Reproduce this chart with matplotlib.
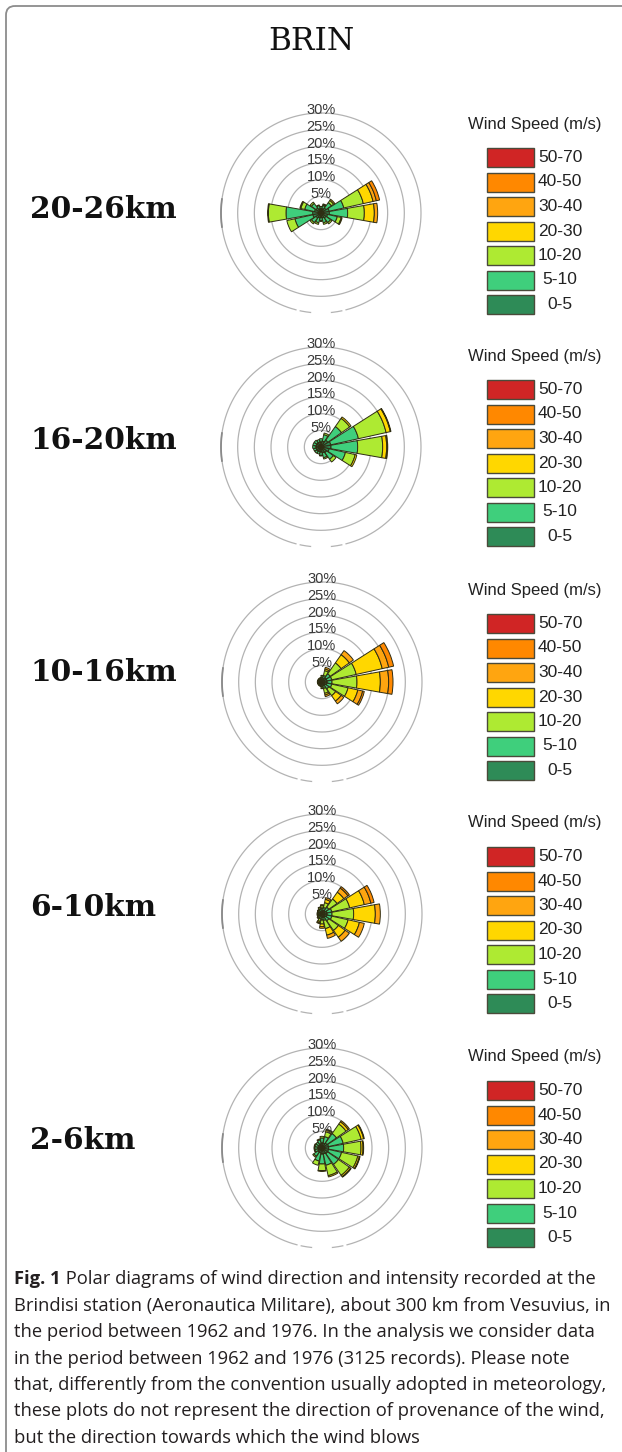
import numpy as np
import matplotlib
matplotlib.use("Agg")
import matplotlib.pyplot as plt
from matplotlib.patches import Rectangle, FancyBboxPatch

# ---------------------------------------------------------------------------
# Data: percentage frequency per direction (toward which the wind blows),
# split by wind-speed class.  Rows = directions, columns = speed classes.
# ---------------------------------------------------------------------------
directions = ['N', 'NNE', 'NE', 'ENE', 'E', 'ESE', 'SE', 'SSE',
              'S', 'SSW', 'SW', 'WSW', 'W', 'WNW', 'NW', 'NNW']
speed_classes = ['0-5', '5-10', '10-20', '20-30', '30-40', '40-50', '50-70']
class_colors = ['#2e8b57', '#3fcf7c', '#aeea32', '#ffd700',
                '#ffa510', '#ff8800', '#d02525']

layers = ['20-26km', '16-20km', '10-16km', '6-10km', '2-6km']

rose_20_26 = [
    [1.2, 0.8, 0.0, 0.0, 0.0, 0.0, 0.0],
    [1.3, 1.0, 0.3, 0.2, 0.0, 0.0, 0.0],
    [1.8, 2.0, 0.8, 0.4, 0.0, 0.0, 0.0],
    [2.5, 4.5, 6.0, 3.0, 1.0, 1.0, 0.0],
    [2.5, 5.5, 5.0, 3.0, 1.0, 0.0, 0.0],
    [2.0, 3.0, 1.2, 0.3, 0.0, 0.0, 0.0],
    [1.8, 1.7, 0.5, 0.0, 0.0, 0.0, 0.0],
    [1.5, 1.5, 0.5, 0.0, 0.0, 0.0, 0.0],
    [1.3, 1.0, 0.2, 0.0, 0.0, 0.0, 0.0],
    [1.5, 1.5, 0.5, 0.0, 0.0, 0.0, 0.0],
    [1.8, 1.7, 0.5, 0.0, 0.0, 0.0, 0.0],
    [2.5, 5.5, 2.5, 0.0, 0.0, 0.0, 0.0],
    [2.5, 8.0, 5.3, 0.2, 0.0, 0.0, 0.0],
    [2.0, 3.0, 1.2, 0.3, 0.0, 0.0, 0.0],
    [1.8, 1.7, 0.5, 0.0, 0.0, 0.0, 0.0],
    [1.3, 1.0, 0.2, 0.0, 0.0, 0.0, 0.0],
]

rose_16_20 = [
    [1.5, 1.0, 0.0, 0.0, 0.0, 0.0, 0.0],
    [1.8, 2.0, 0.5, 0.0, 0.0, 0.0, 0.0],
    [2.5, 5.0, 3.0, 0.5, 0.0, 0.0, 0.0],
    [3.0, 8.5, 8.5, 1.3, 0.2, 0.0, 0.0],
    [3.0, 8.0, 7.5, 1.2, 0.3, 0.0, 0.0],
    [2.5, 5.0, 3.0, 0.5, 0.0, 0.0, 0.0],
    [2.0, 2.5, 1.0, 0.0, 0.0, 0.0, 0.0],
    [1.8, 1.5, 0.4, 0.0, 0.0, 0.0, 0.0],
    [1.5, 1.0, 0.2, 0.0, 0.0, 0.0, 0.0],
    [1.4, 0.8, 0.0, 0.0, 0.0, 0.0, 0.0],
    [1.5, 0.8, 0.0, 0.0, 0.0, 0.0, 0.0],
    [1.5, 0.8, 0.0, 0.0, 0.0, 0.0, 0.0],
    [1.5, 1.0, 0.0, 0.0, 0.0, 0.0, 0.0],
    [1.5, 1.0, 0.0, 0.0, 0.0, 0.0, 0.0],
    [1.5, 1.0, 0.0, 0.0, 0.0, 0.0, 0.0],
    [1.5, 0.8, 0.0, 0.0, 0.0, 0.0, 0.0],
]

rose_10_16 = [
    [0.8, 0.7, 0.5, 0.0, 0.0, 0.0, 0.0],
    [1.0, 1.0, 1.5, 0.5, 0.5, 0.0, 0.0],
    [1.5, 1.5, 4.0, 3.0, 1.5, 0.0, 0.0],
    [1.5, 1.5, 7.5, 8.0, 2.0, 1.5, 0.0],
    [1.5, 1.5, 7.5, 7.0, 2.5, 1.3, 0.0],
    [1.5, 1.5, 5.0, 3.0, 1.5, 0.5, 0.0],
    [1.2, 1.3, 2.5, 2.0, 1.0, 0.0, 0.0],
    [1.0, 1.0, 1.5, 0.5, 0.5, 0.0, 0.0],
    [0.8, 0.7, 0.5, 0.0, 0.0, 0.0, 0.0],
    [0.7, 0.5, 0.2, 0.0, 0.0, 0.0, 0.0],
    [0.7, 0.5, 0.2, 0.0, 0.0, 0.0, 0.0],
    [0.7, 0.5, 0.2, 0.0, 0.0, 0.0, 0.0],
    [0.7, 0.5, 0.2, 0.0, 0.0, 0.0, 0.0],
    [0.7, 0.5, 0.2, 0.0, 0.0, 0.0, 0.0],
    [0.7, 0.5, 0.2, 0.0, 0.0, 0.0, 0.0],
    [0.7, 0.5, 0.2, 0.0, 0.0, 0.0, 0.0],
]

rose_6_10 = [
    [1.0, 0.8, 0.7, 0.3, 0.0, 0.0, 0.0],
    [1.0, 1.0, 1.5, 1.0, 0.5, 0.0, 0.0],
    [1.2, 1.3, 3.0, 2.5, 1.5, 0.5, 0.0],
    [1.5, 1.5, 5.5, 4.5, 2.0, 1.0, 0.0],
    [1.5, 1.5, 6.5, 6.5, 1.5, 0.0, 0.0],
    [1.5, 1.5, 5.0, 3.5, 1.5, 0.0, 0.0],
    [1.2, 1.3, 3.5, 2.5, 1.5, 0.0, 0.0],
    [1.0, 1.0, 2.5, 2.0, 1.0, 0.0, 0.0],
    [1.0, 0.8, 1.2, 0.8, 0.5, 0.0, 0.0],
    [0.8, 0.7, 0.8, 0.4, 0.3, 0.0, 0.0],
    [0.8, 0.6, 0.4, 0.0, 0.0, 0.0, 0.0],
    [0.8, 0.5, 0.2, 0.0, 0.0, 0.0, 0.0],
    [0.8, 0.5, 0.2, 0.0, 0.0, 0.0, 0.0],
    [0.8, 0.5, 0.2, 0.0, 0.0, 0.0, 0.0],
    [0.8, 0.6, 0.3, 0.0, 0.0, 0.0, 0.0],
    [0.8, 0.7, 0.5, 0.2, 0.0, 0.0, 0.0],
]

rose_2_6 = [
    [1.5, 1.5, 0.5, 0.0, 0.0, 0.0, 0.0],
    [1.5, 2.0, 1.5, 0.5, 0.3, 0.0, 0.0],
    [1.8, 3.5, 3.5, 0.8, 0.4, 0.0, 0.0],
    [2.0, 4.5, 5.5, 0.8, 0.2, 0.0, 0.0],
    [2.0, 4.5, 5.2, 0.6, 0.2, 0.0, 0.0],
    [2.0, 4.0, 5.0, 0.5, 0.2, 0.0, 0.0],
    [2.0, 4.0, 4.0, 0.5, 0.2, 0.0, 0.0],
    [1.8, 3.5, 3.2, 0.4, 0.0, 0.0, 0.0],
    [1.8, 3.0, 2.0, 0.2, 0.0, 0.0, 0.0],
    [1.5, 2.5, 1.3, 0.0, 0.0, 0.0, 0.0],
    [1.4, 1.6, 0.4, 0.0, 0.0, 0.0, 0.0],
    [1.2, 1.0, 0.2, 0.0, 0.0, 0.0, 0.0],
    [1.2, 1.0, 0.2, 0.0, 0.0, 0.0, 0.0],
    [1.2, 1.0, 0.2, 0.0, 0.0, 0.0, 0.0],
    [1.2, 1.0, 0.0, 0.0, 0.0, 0.0, 0.0],
    [1.3, 1.2, 0.3, 0.0, 0.0, 0.0, 0.0],
]

roses = [rose_20_26, rose_16_20, rose_10_16, rose_6_10, rose_2_6]
ring_levels = [5, 10, 15, 20, 25, 30]

caption_lines = [
    "Polar diagrams of wind direction and intensity recorded at the",
    "Brindisi station (Aeronautica Militare), about 300 km from Vesuvius, in",
    "the period between 1962 and 1976. In the analysis we consider data",
    "in the period between 1962 and 1976 (3125 records). Please note",
    "that, differently from the convention usually adopted in meteorology,",
    "these plots do not represent the direction of provenance of the wind,",
    "but the direction towards which the wind blows",
]

# ---------------------------------------------------------------------------
W, H = 622, 1452
fig = plt.figure(figsize=(W / 100, H / 100), dpi=100)
fig.patch.set_facecolor('white')

# full-figure overlay in pixel units (y downward) for text, legends, frame
ov = fig.add_axes([0, 0, 1, 1])
ov.set_xlim(0, W)
ov.set_ylim(H, 0)
ov.axis('off')

frame = FancyBboxPatch((6, 6), 660, 1520,
                       boxstyle='round,pad=0,rounding_size=9',
                       fill=False, edgecolor='#8c8c8c', linewidth=1.3)
ov.add_patch(frame)

ov.text(311, 50, 'BRIN', ha='center', va='baseline',
        family='DejaVu Serif', fontsize=22.5, color='#111111')

centers = [(321, 213), (321, 447), (322, 682), (322, 914), (322, 1148)]
label_baselines = [218, 449, 681, 916, 1149]
legend_title_y = [124, 356, 590, 823, 1057]

R_PX = 100.0      # pixel radius of the 30% ring
RMAX = 30.6
sector = np.deg2rad(20.0)
theta = np.deg2rad(np.arange(len(directions)) * 22.5)
tt = np.linspace(0, 2 * np.pi, 721)

for i, (name, table) in enumerate(zip(layers, roses)):
    cx, cy = centers[i]
    rpx = R_PX * RMAX / 30.0
    ax = fig.add_axes([(cx - rpx) / W, 1 - (cy + rpx) / H,
                       2 * rpx / W, 2 * rpx / H], projection='polar')
    ax.set_theta_zero_location('N')
    ax.set_theta_direction(-1)
    ax.set_ylim(0, RMAX)
    ax.axis('off')

    # concentric frequency rings
    for r in ring_levels:
        if r == 30:
            deg = np.rad2deg(tt)
            gaps = ((deg > 165.5) & (deg < 167.9)) | \
                   ((deg > 174.3) & (deg < 185.7)) | \
                   ((deg > 192.1) & (deg < 194.5))
            rr = np.where(gaps, np.nan, r)
            ax.plot(tt, rr, color='#b3b3b3', lw=0.9, zorder=1)
            left = np.deg2rad(np.linspace(262, 278, 40))
            ax.plot(left, np.full_like(left, r), color='#8a8a8a', lw=1.3, zorder=1)
        else:
            ax.plot(tt, np.full_like(tt, r), color='#b3b3b3', lw=0.9, zorder=1)
        ax.text(0, r + 0.8, f'{r}%', ha='center', va='center',
                family='Liberation Sans', fontsize=10.5, color='#3a3a3a', zorder=5)

    # stacked sectors
    data = np.array(table).T
    bottom = np.zeros(len(directions))
    for k in range(len(speed_classes)):
        vals = data[k]
        m = vals > 0
        ax.bar(theta[m], vals[m], width=sector, bottom=bottom[m],
               color=class_colors[k], edgecolor='#2e2c12', linewidth=0.7,
               zorder=3)
        bottom += vals

    # layer label
    ov.text(30, label_baselines[i], name, ha='left', va='baseline',
            family='DejaVu Serif', fontweight='bold', fontsize=21.3,
            color='#111111')

    # speed legend
    ty = legend_title_y[i]
    ov.text(535, ty, 'Wind Speed (m/s)', ha='center', va='center',
            family='Liberation Sans', fontsize=12, color='#222222')
    for j, k in enumerate(range(len(speed_classes) - 1, -1, -1)):
        yc = ty + 33.5 + 24.5 * j
        ov.add_patch(Rectangle((487, yc - 9.5), 47, 19,
                               facecolor=class_colors[k], edgecolor='#4a4a3a',
                               linewidth=1.0))
        ov.text(560, yc, speed_classes[k], ha='center', va='center',
                family='Liberation Sans', fontsize=12.5, color='#222222')

# caption
cap_font = 'Open Sans'
cap_size = 13.2
base0 = 1284
pitch = 26.5
fig_lbl = ov.text(14, base0, 'Fig. 1', ha='left', va='baseline',
                  family=cap_font, fontweight='bold', fontsize=cap_size,
                  color='#231f20')
ov.annotate(' ' + caption_lines[0], xy=(1, 0), xycoords=fig_lbl,
            ha='left', va='bottom', family=cap_font, fontsize=cap_size,
            color='#231f20')
for n, line in enumerate(caption_lines[1:], start=1):
    ov.text(14, base0 + pitch * n, line, ha='left', va='baseline',
            family=cap_font, fontsize=cap_size, color='#231f20')

fig.savefig('out.png', dpi=100, facecolor='white')
